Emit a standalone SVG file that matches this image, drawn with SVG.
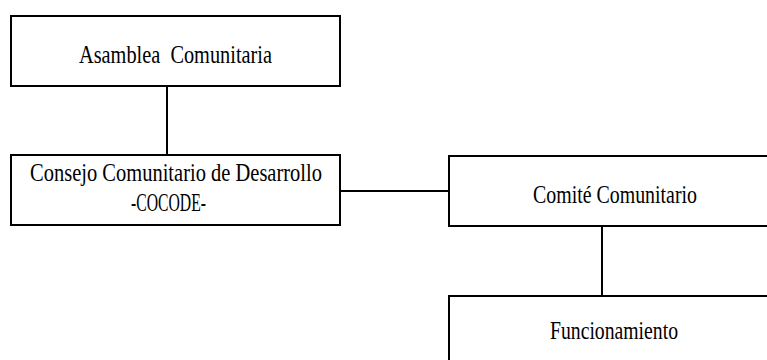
<svg xmlns="http://www.w3.org/2000/svg" width="767" height="360" viewBox="0 0 767 360">
<style>
.box{fill:#fff;stroke:#000;stroke-width:2}
.lbl{font-family:"Liberation Serif","Times New Roman",serif;font-size:25px;fill:#000}
.conn{stroke:#000;stroke-width:2;fill:none}
</style>
<rect width="767" height="360" fill="#fff"/>
<g id="connectors">
<line class="conn" x1="167" y1="86" x2="167" y2="155"/>
<line class="conn" x1="340" y1="191" x2="449" y2="191"/>
<line class="conn" x1="602" y1="226" x2="602" y2="296"/>
</g>
<g id="asamblea">
<rect class="box" x="11" y="16" width="329" height="70"/>
<text class="lbl" x="79" y="63" textLength="193" lengthAdjust="spacingAndGlyphs">Asamblea&#160; Comunitaria</text>
</g>
<g id="cocode">
<rect class="box" x="11" y="155" width="329" height="70"/>
<text class="lbl" x="30" y="181" textLength="292" lengthAdjust="spacingAndGlyphs">Consejo Comunitario de Desarrollo</text>
<text class="lbl" x="131" y="211" textLength="75" lengthAdjust="spacingAndGlyphs">-COCODE-</text>
</g>
<g id="comite">
<rect class="box" x="449" y="156" width="340" height="70"/>
<text class="lbl" x="533" y="203" textLength="164" lengthAdjust="spacingAndGlyphs">Comité Comunitario</text>
</g>
<g id="funcionamiento">
<rect class="box" x="449" y="296" width="340" height="90"/>
<text class="lbl" x="550" y="339" textLength="128" lengthAdjust="spacingAndGlyphs">Funcionamiento</text>
</g>
</svg>
